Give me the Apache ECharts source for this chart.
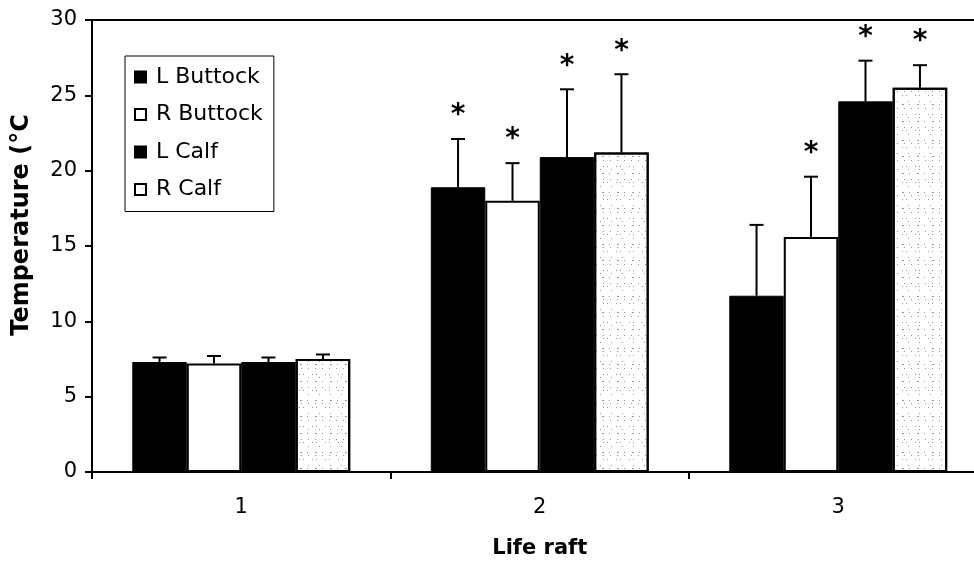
<!DOCTYPE html>
<html>
<head>
<meta charset="utf-8">
<script src="https://cdn.jsdelivr.net/npm/echarts@6/dist/echarts.min.js"></script>
<style>html,body{margin:0;padding:0;background:#fff}#c{width:974px;height:566px}</style>
</head>
<body>
<div id="c"></div>
<script>
const categories = ['1', '2', '3'];
const seriesNames = ['L Buttock', 'R Buttock', 'L Calf', 'R Calf'];
const lButtock = [7.3, 18.9, 11.7];
const rButtock = [7.2, 18.0, 15.6];
const lCalf = [7.3, 20.9, 24.6];
const rCalf = [7.5, 21.2, 25.5];
const lButtockErr = [0.3, 3.2, 4.7];
const rButtockErr = [0.5, 2.5, 4.0];
const lCalfErr = [0.3, 4.5, 2.7];
const rCalfErr = [0.3, 5.2, 1.5];
const lButtockSig = [0, 1, 0];
const rButtockSig = [0, 1, 1];
const lCalfSig = [0, 1, 1];
const rCalfSig = [0, 1, 1];
const yTicks = [0, 5, 10, 15, 20, 25, 30];

const values = [lButtock, rButtock, lCalf, rCalf];
const errs = [lButtockErr, rButtockErr, lCalfErr, rCalfErr];
const sigs = [lButtockSig, rButtockSig, lCalfSig, rCalfSig];

const FONT = 'DejaVu Sans';
const CAT_GAP = 0.27;

const styles = [
  { color: '#000', borderColor: '#000', borderWidth: 1 },
  { color: '#fff', borderColor: '#000', borderWidth: 2 },
  { color: '#000', borderColor: '#000', borderWidth: 1 },
  { color: '#fff', borderColor: '#000', borderWidth: 2,
    decal: { symbol: 'rect', symbolSize: 1, color: 'rgba(80,80,80,0.6)',
      dashArrayX: [[1, 6], [1, 3, 1, 8], [1, 10], [2, 5, 1, 7]], dashArrayY: [1, 3, 1, 5, 1, 2] } }
];

const barSeries = seriesNames.map((n, i) => ({
  name: n, type: 'bar', data: values[i],
  barGap: '0%', barCategoryGap: (CAT_GAP * 100) + '%',
  itemStyle: styles[i], emphasis: { disabled: true }, z: 2
}));

const errData = [];
values.forEach((arr, si) => arr.forEach((v, ci) => errData.push([ci, si, v, errs[si][ci], sigs[si][ci]])));

const errSeries = {
  type: 'custom', name: 'err', data: errData, z: 5, silent: true,
  renderItem: function (params, api) {
    const ci = api.value(0), si = api.value(1), v = api.value(2), e = api.value(3), f = api.value(4);
    const band = api.size([1, 0])[0];
    const bw = band * (1 - CAT_GAP) / 4;
    const cx = api.coord([ci, 0])[0] + (si - 1.5) * bw;
    const yBar = api.coord([ci, v])[1];
    const yTop = api.coord([ci, v + e])[1];
    const children = [
      { type: 'line', shape: { x1: cx, y1: yBar, x2: cx, y2: yTop }, style: { stroke: '#000', lineWidth: 2 } },
      { type: 'line', shape: { x1: cx - 7, y1: yTop, x2: cx + 7, y2: yTop }, style: { stroke: '#000', lineWidth: 2 } }
    ];
    if (f) {
      children.push({ type: 'text', x: cx, y: yTop - 23,
        style: { text: '*', fontFamily: FONT, fontWeight: 'bold', fontSize: 28, fill: '#000', align: 'center', verticalAlign: 'middle' } });
    }
    return { type: 'group', children: children };
  }
};

const chart = echarts.init(document.getElementById('c'), null, { renderer: 'canvas' });
chart.setOption({
  animation: false,
  backgroundColor: '#fff',
  grid: { left: 92, width: 895.5, top: 20, bottom: 94, containLabel: false, outerBoundsMode: 'none' },
  legend: {
    data: seriesNames, orient: 'vertical', left: 125, top: 56, icon: 'rect',
    padding: [10, 11, 11, 9], itemGap: 15.5, itemWidth: 11, itemHeight: 11,
    borderColor: '#000', borderWidth: 1, selectedMode: false,
    textStyle: { fontFamily: FONT, fontSize: 22, color: '#000', lineHeight: 22, padding: [0, 0, 0, 5] }
  },
  xAxis: [{
    type: 'category', data: categories, position: 'bottom',
    name: 'Life raft', nameLocation: 'middle', nameGap: 66,
    nameTextStyle: { fontFamily: FONT, fontWeight: 'bold', fontSize: 21, color: '#000' },
    axisLine: { lineStyle: { color: '#000', width: 2 } },
    axisTick: { show: true, alignWithLabel: false, length: 7, lineStyle: { color: '#000', width: 2 } },
    axisLabel: { fontFamily: FONT, fontSize: 21, color: '#000', margin: 25 },
    splitLine: { show: false }
  }, {
    type: 'category', data: categories, position: 'top',
    axisLine: { lineStyle: { color: '#000', width: 2 } },
    axisTick: { show: false }, axisLabel: { show: false }, splitLine: { show: false }
  }],
  yAxis: {
    type: 'value', min: yTicks[0], max: yTicks[yTicks.length - 1], interval: yTicks[1] - yTicks[0],
    name: 'Temperature (°C', nameLocation: 'middle', nameGap: 58, nameRotate: 90,
    nameTextStyle: { fontFamily: FONT, fontWeight: 'bold', fontSize: 24, color: '#000', padding: [0, 0, 0, 42] },
    axisLine: { show: true, lineStyle: { color: '#000', width: 2 } },
    axisTick: { show: true, length: 7, lineStyle: { color: '#000', width: 2 } },
    axisLabel: { fontFamily: FONT, fontSize: 21, color: '#000', margin: 15 },
    splitLine: { show: false }
  },
  series: barSeries.concat([errSeries])
});
</script>
</body>
</html>
